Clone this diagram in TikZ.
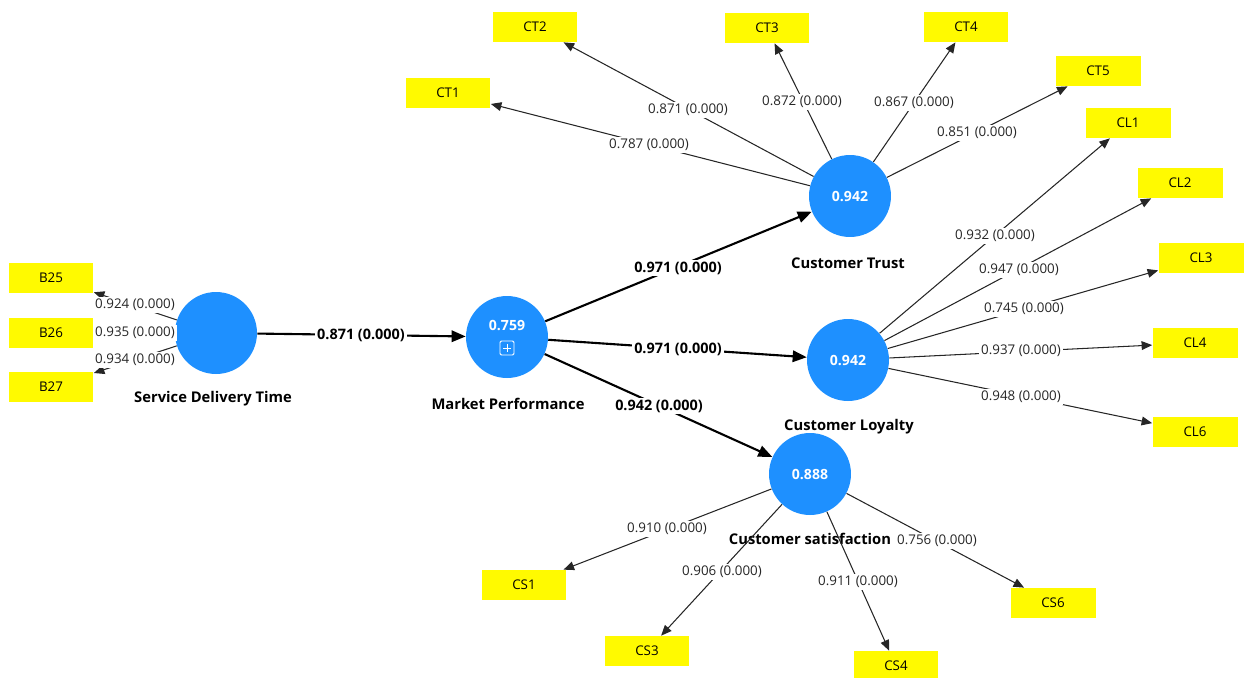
\documentclass[tikz,border=0pt]{standalone}
\usepackage{fontspec}
\setmainfont{Open Sans}
\usetikzlibrary{arrows.meta,calc}
\definecolor{lvblue}{RGB}{30,144,255}
\definecolor{indyellow}{RGB}{255,250,0}

\tikzset{
  latent/.style={circle, fill=lvblue, draw=none, minimum size=1.64cm, inner sep=0pt},
  lvvalue/.style={text=white, inner sep=1pt, font=\fontsize{8}{10}\selectfont\bfseries},
  indicator/.style={rectangle, fill=indyellow, draw=none, minimum width=1.7cm,
    minimum height=0.6cm, inner sep=0pt, font=\fontsize{7.6}{9}\selectfont},
  loading/.style={draw=black!85, line width=0.6pt, -{Triangle[length=6pt,width=5pt]}},
  pathcoef/.style={draw=black, line width=1.2pt, -{Triangle[length=8pt,width=6.5pt]}},
  wlabel/.style={fill=white, inner sep=1pt, text=black!85, font=\fontsize{7.6}{9}\selectfont},
  blabel/.style={fill=white, inner sep=1pt, font=\fontsize{8.2}{10}\selectfont\bfseries},
  cname/.style={inner sep=1pt, font=\fontsize{8.4}{10}\selectfont\bfseries},
}

\begin{document}
\begin{tikzpicture}[x=0.02cm, y=-0.02cm]
\useasboundingbox (0,0) rectangle (1245,677);

% latent constructs
\node[latent] (SDT) at (216,333) {};
\node[latent] (MP)  at (507,337) {};
\node[latent] (CT)  at (850,196) {};
\node[latent] (CL)  at (848,360) {};
\node[latent] (CS)  at (810,474) {};

\node[lvvalue] (MPv) at (507,325) {0.759};
\node[lvvalue] (CTv) at (850,196) {0.942};
\node[lvvalue] (CLv) at (848,360) {0.942};
\node[lvvalue] (CSv) at (810,474) {0.888};

% expand marker inside Market Performance
\draw[white, line width=0.55pt, rounded corners=0.8pt] ($(MP)+(-7,4)$) rectangle ($(MP)+(7,18)$);
\draw[white, line width=0.55pt] ($(MP)+(-4,11)$) -- ($(MP)+(4,11)$);
\draw[white, line width=0.55pt] ($(MP)+(0,7)$) -- ($(MP)+(0,15)$);

% construct names
\node[cname] (SDTn) at (213,399) {Service Delivery Time};
\node[cname] (MPn)  at (508,404) {Market Performance};
\node[cname] (CTn)  at (848,263) {Customer Trust};
\node[cname] (CLn)  at (849,427) {Customer Loyalty};
\node[cname] (CSn)  at (810,539) {Customer satisfaction};

% indicators
\node[indicator] (B25) at (51,278) {B25};
\node[indicator] (B26) at (51,333) {B26};
\node[indicator] (B27) at (51,387) {B27};

\node[indicator] (CT1) at (448,93) {CT1};
\node[indicator] (CT2) at (535,27) {CT2};
\node[indicator] (CT3) at (767,28) {CT3};
\node[indicator] (CT4) at (966,27) {CT4};
\node[indicator] (CT5) at (1098,71) {CT5};

\node[indicator] (CL1) at (1128,123) {CL1};
\node[indicator] (CL2) at (1180,183) {CL2};
\node[indicator] (CL3) at (1201,258) {CL3};
\node[indicator] (CL4) at (1195,343) {CL4};
\node[indicator] (CL6) at (1195,432) {CL6};

\node[indicator] (CS1) at (524,585) {CS1};
\node[indicator] (CS3) at (647,651) {CS3};
\node[indicator] (CS4) at (896,666) {CS4};
\node[indicator] (CS6) at (1053,603) {CS6};

% structural paths
\draw[pathcoef] (SDT) -- (MP);
\draw[pathcoef] (MP) -- (CT);
\draw[pathcoef] (MP) -- (CL);
\draw[pathcoef] (MP) -- (CS);

% outer loadings
\draw[loading] (SDT) -- (B25);
\draw[loading] (SDT) -- (B26);
\draw[loading] (SDT) -- (B27);

\draw[loading] (CT) -- (CT1);
\draw[loading] (CT) -- (CT2);
\draw[loading] (CT) -- (CT3);
\draw[loading] (CT) -- (CT4);
\draw[loading] (CT) -- (CT5);

\draw[loading] (CL) -- (CL1);
\draw[loading] (CL) -- (CL2);
\draw[loading] (CL) -- (CL3);
\draw[loading] (CL) -- (CL4);
\draw[loading] (CL) -- (CL6);

\draw[loading] (CS) -- (CS1);
\draw[loading] (CS) -- (CS3);
\draw[loading] (CS) -- (CS4);
\draw[loading] (CS) -- (CS6);

% path coefficient labels
\node[blabel] (pSDT) at (361,335) {0.871 (0.000)};
\node[blabel] (pCT)  at (678,268) {0.971 (0.000)};
\node[blabel] (pCL)  at (678,349) {0.971 (0.000)};
\node[blabel] (pCS)  at (659,406) {0.942 (0.000)};

% loading labels
\node[wlabel] (lB25) at (135,305) {0.924 (0.000)};
\node[wlabel] (lB26) at (135,333) {0.935 (0.000)};
\node[wlabel] (lB27) at (135,360) {0.934 (0.000)};

\node[wlabel] (lCT1) at (649,145) {0.787 (0.000)};
\node[wlabel] (lCT2) at (688,110) {0.871 (0.000)};
\node[wlabel] (lCT3) at (802,102) {0.872 (0.000)};
\node[wlabel] (lCT4) at (914,103) {0.867 (0.000)};
\node[wlabel] (lCT5) at (977,133) {0.851 (0.000)};

\node[wlabel] (lCL1) at (995,236) {0.932 (0.000)};
\node[wlabel] (lCL2) at (1019,270) {0.947 (0.000)};
\node[wlabel] (lCL3) at (1024,309) {0.745 (0.000)};
\node[wlabel] (lCL4) at (1021,351) {0.937 (0.000)};
\node[wlabel] (lCL6) at (1021,397) {0.948 (0.000)};

\node[wlabel] (lCS1) at (667,529) {0.910 (0.000)};
\node[wlabel] (lCS3) at (722,572) {0.906 (0.000)};
\node[wlabel] (lCS4) at (858,582) {0.911 (0.000)};
\node[wlabel] (lCS6) at (937,541) {0.756 (0.000)};
\end{tikzpicture}
\end{document}
